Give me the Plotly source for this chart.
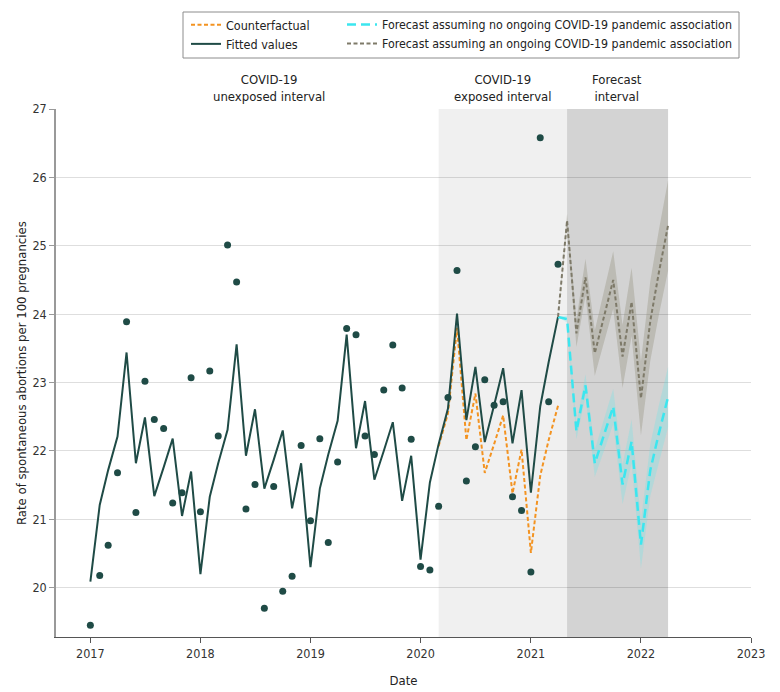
import plotly.graph_objects as go
import pandas as pd

# ---------------- data ----------------
obs_months = pd.date_range("2017-01-01", "2021-04-01", freq="MS")
observed = [19.45, 20.18, 20.62, 21.68, 23.89, 21.10, 23.02, 22.46, 22.33, 21.24, 21.39, 23.07,
            21.11, 23.17, 22.22, 25.01, 24.47, 21.15, 21.51, 19.70, 21.48, 19.95, 20.17, 22.08,
            20.98, 22.18, 20.66, 21.84, 23.79, 23.70, 22.22, 21.95, 22.89, 23.55, 22.92, 22.17,
            20.31, 20.26, 21.19, 22.78, 24.64, 21.56, 22.06, 23.04, 22.67, 22.72, 21.33, 21.13,
            20.23, 26.58, 22.72, 24.73]
fitted = [20.09, 21.21, 21.72, 22.21, 23.44, 21.82, 22.49, 21.34, 21.76, 22.18, 21.05, 21.70,
          20.20, 21.33, 21.82, 22.31, 23.56, 21.93, 22.61, 21.45, 21.87, 22.30, 21.16, 21.82,
          20.30, 21.45, 21.95, 22.44, 23.70, 22.04, 22.73, 21.58, 22.00, 22.42, 21.27, 21.93,
          20.41, 21.54, 22.10, 22.62, 24.01, 22.45, 23.23, 22.13, 22.67, 23.21, 22.11, 22.89,
          21.39, 22.65, 23.30, 23.96]

cf_months = pd.date_range("2020-03-01", "2021-04-01", freq="MS")
counterfactual = [22.07, 22.55, 23.80, 22.16, 22.84, 21.68, 22.10, 22.52, 21.38, 22.02,
                  20.51, 21.64, 22.16, 22.66]

fc_months = pd.date_range("2021-04-01", "2022-04-01", freq="MS")
fc_none = [23.96, 23.93, 22.29, 22.96, 21.82, 22.24, 22.65, 21.51, 22.14, 20.63, 21.72, 22.25, 22.79]
fc_none_lo = [23.96, 23.88, 22.17, 22.80, 21.62, 22.01, 22.39, 21.22, 21.82, 20.28, 21.34, 21.84, 22.35]
fc_none_hi = [23.96, 23.98, 22.41, 23.12, 22.02, 22.47, 22.91, 21.80, 22.46, 20.98, 22.10, 22.66, 23.23]
fc_ongoing = [23.96, 25.37, 23.72, 24.54, 23.43, 23.97, 24.50, 23.38, 24.18, 22.77, 23.90, 24.60, 25.30]
fc_ongoing_lo = [23.96, 25.27, 23.52, 24.27, 23.10, 23.59, 24.08, 22.92, 23.68, 22.23, 23.32, 23.98, 24.64]
fc_ongoing_hi = [23.96, 25.47, 23.92, 24.81, 23.76, 24.35, 24.92, 23.84, 24.68, 23.31, 24.48, 25.22, 25.96]

interval_labels = ["COVID-19<br>unexposed interval", "COVID-19<br>exposed interval", "Forecast<br>interval"]
interval_centers = ["2018-08-16", "2020-09-30", "2021-10-15"]
exposed_span = ["2020-03-01", "2021-05-01"]
forecast_span = ["2021-05-01", "2022-04-01"]
year_ticks = [2017, 2018, 2019, 2020, 2021, 2022, 2023]
y_ticks = [20, 21, 22, 23, 24, 25, 26, 27]
y_title = "Rate of spontaneous abortions per 100 pregnancies"

# ---------------- styling ----------------
TEAL = "#1f4b46"
ORANGE = "#f39321"
CYAN = "#3be6ef"
GREY = "#7e7a69"
FONT = "DejaVu Sans Condensed, Liberation Sans Narrow, Roboto, sans-serif"

OFF = 8  # page body margin
W, H = 780, 692
L, R, T, B = 48, 37, 101, 63
PW, PH = W - L - R, H - T - B


def px_x(p):
    return (p - OFF - L) / PW


def px_y(p):
    return (H - B - (p - OFF)) / PH


fig = go.Figure()

# bands
fig.add_trace(go.Scatter(
    x=list(fc_months) + list(fc_months[::-1]), y=fc_ongoing_hi + fc_ongoing_lo[::-1],
    fill="toself", fillcolor="rgba(150,148,128,0.38)", line=dict(width=0),
    hoverinfo="skip", showlegend=False))
fig.add_trace(go.Scatter(
    x=list(fc_months) + list(fc_months[::-1]), y=fc_none_hi + fc_none_lo[::-1],
    fill="toself", fillcolor="rgba(110,228,232,0.30)", line=dict(width=0),
    hoverinfo="skip", showlegend=False))

fig.add_trace(go.Scatter(
    x=cf_months, y=counterfactual, mode="lines", name="Counterfactual",
    line=dict(color=ORANGE, width=2, dash="4px,2.5px"), legend="legend"))
fig.add_trace(go.Scatter(
    x=obs_months, y=fitted, mode="lines", name="Fitted values",
    line=dict(color=TEAL, width=2), legend="legend"))
fig.add_trace(go.Scatter(
    x=obs_months, y=observed, mode="markers", name="Observed",
    marker=dict(color=TEAL, size=7), showlegend=False))
fig.add_trace(go.Scatter(
    x=fc_months, y=fc_none, mode="lines",
    name="Forecast assuming no ongoing COVID-19 pandemic association",
    line=dict(color=CYAN, width=2.5, dash="9px,5px"), legend="legend2"))
fig.add_trace(go.Scatter(
    x=fc_months, y=fc_ongoing, mode="lines",
    name="Forecast assuming an ongoing COVID-19 pandemic association",
    line=dict(color=GREY, width=2, dash="4px,2.5px"), legend="legend2"))

shapes = [
    dict(type="rect", xref="x", yref="paper", x0=exposed_span[0], x1=exposed_span[1], y0=0, y1=1,
         fillcolor="#f0f0f0", line=dict(width=0), layer="below"),
    dict(type="rect", xref="x", yref="paper", x0=forecast_span[0], x1=forecast_span[1], y0=0, y1=1,
         fillcolor="#d3d3d3", line=dict(width=0), layer="below"),
    dict(type="rect", xref="paper", yref="paper", x0=px_x(183), x1=px_x(739),
         y0=px_y(58), y1=px_y(12), line=dict(color="#8c8c8c", width=1), fillcolor="rgba(0,0,0,0)"),
]

annotations = [
    dict(x=c, y=px_y(88), xref="x", yref="paper", text=t, showarrow=False,
         font=dict(family=FONT, size=13, color="#222"), align="center", yanchor="middle")
    for c, t in zip(interval_centers, interval_labels)
]
annotations.append(dict(
    x=px_x(21), y=0.5, xref="paper", yref="paper", text=y_title, showarrow=False,
    textangle=-90, xanchor="center", yanchor="middle",
    font=dict(family=FONT, size=13, color="#222")))

fig.update_layout(
    width=W, height=H,
    margin=dict(l=L, r=R, t=T, b=B, autoexpand=False),
    paper_bgcolor="white", plot_bgcolor="white",
    font=dict(family=FONT, size=13, color="#222"),
    shapes=shapes, annotations=annotations,
    legend=dict(x=px_x(186), y=px_y(10), xanchor="left", yanchor="top",
                bgcolor="rgba(0,0,0,0)", font=dict(family=FONT, size=12.5, color="#222"),
                tracegroupgap=0, itemwidth=30),
    legend2=dict(x=px_x(342), y=px_y(10), xanchor="left", yanchor="top",
                 bgcolor="rgba(0,0,0,0)", font=dict(family=FONT, size=12.3, color="#222"),
                 tracegroupgap=0, itemwidth=30),
    xaxis=dict(
        type="date", range=["2016-09-09", "2023-01-01"], automargin=False,
        tickvals=[f"{y}-01-01" for y in year_ticks], ticktext=[str(y) for y in year_ticks],
        showgrid=False, showline=True, linecolor="#555", linewidth=1,
        ticks="outside", ticklen=5, tickcolor="#555",
        tickfont=dict(family=FONT, size=12.5, color="#333"),
        title=dict(text="Date", font=dict(family=FONT, size=13, color="#222"), standoff=15),
        zeroline=False),
    yaxis=dict(
        range=[19.28, 27], tickvals=y_ticks, automargin=False,
        showgrid=True, gridcolor="rgba(0,0,0,0.13)", gridwidth=1,
        showline=True, linecolor="#999", linewidth=1.5,
        ticks="outside", ticklen=5, tickcolor="#999",
        tickfont=dict(family=FONT, size=12.5, color="#333"),
        zeroline=False),
)

fig.write_html("out.html")
